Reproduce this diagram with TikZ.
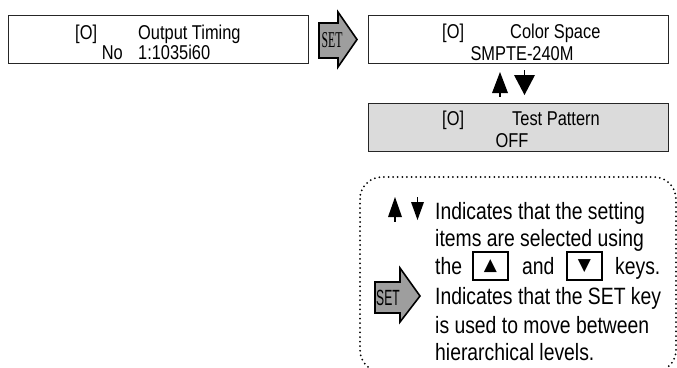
\documentclass[tikz,border=0pt]{standalone}
\usepackage{fontspec}
\setmainfont{Liberation Sans}
\newfontfamily\narrowfont{Liberation Sans}[FakeStretch=0.82]
\newfontfamily\keyfont{Liberation Sans}[FakeStretch=0.55]
\newfontfamily\setfont{Liberation Serif}[FakeStretch=0.52]
\newfontfamily\symfont{DejaVu Sans}

\begin{document}
\begin{tikzpicture}[x=1pt,y=-1pt,
  lcd/.style={draw=black!85,line width=1pt,minimum width=300pt,minimum height=48pt,inner sep=0pt},
  txt/.style={anchor=base west,inner sep=0pt,font=\narrowfont\fontsize{20}{22}\selectfont},
  note/.style={anchor=base west,inner sep=0pt,font=\narrowfont\fontsize{23.6}{25}\selectfont},
  setarrow/.style={fill=black!38,draw=black,line width=1.6pt,line join=miter},
  updown/.style={fill=black},
  keybox/.style={draw,line width=1.5pt,minimum width=35pt,minimum height=28pt,inner sep=0pt,
    font=\symfont\fontsize{17}{17}\selectfont},
  dotbox/.style={line width=2pt,line cap=round,dash pattern=on 0pt off 4.6pt,rounded corners=22pt}]

\useasboundingbox (0,0) rectangle (677,367);
\clip (0,0) rectangle (677,367);

% menu screens
\node[lcd] (timing) at (158,39) {};
\node[lcd] (space) at (518,39.5) {};
\node[lcd,fill=black!14] (pattern) at (518,127.5) {};

\node[txt] (timingA) at (75,39) {[O]};
\node[txt] (timingB) at (138,39) {Output Timing};
\node[txt,anchor=base east] (timingC) at (123,59.5) {No};
\node[txt] (timingD) at (138,59.5) {1:1035i60};

\node[txt] (spaceA) at (442,38) {[O]};
\node[txt] (spaceB) at (510,38) {Color Space};
\node[txt,anchor=base] (spaceC) at (522,60) {SMPTE-240M};

\node[txt] (patternA) at (442,125) {[O]};
\node[txt] (patternB) at (512,125) {Test Pattern};
\node[txt,anchor=base] (patternC) at (512,147) {OFF};

% SET key between the screens
\draw[setarrow] (319,23) -- (338,23) -- (338,12) -- (357,39.5) -- (338,67) -- (338,58) -- (319,58) -- cycle;
\node[inner sep=0pt,font=\setfont\fontsize{22.6}{23}\selectfont] (setA) at (332,40) {SET};

% up / down keys
\fill[updown] (492,93) -- (500,72) -- (508,93) -- cycle;
\draw[line width=1.2pt] (500,93) -- (500,97);
\fill[updown] (514,75) -- (535,75) -- (524.5,95) -- cycle;
\draw[line width=1.2pt] (524.5,70) -- (524.5,75);

% legend
\draw[dotbox] (360,177) rectangle (676,372);

\fill[updown] (388,217) -- (395,197) -- (402,217) -- cycle;
\draw[line width=1.2pt] (395,217) -- (395,222);
\fill[updown] (411,202) -- (424,202) -- (417.5,220) -- cycle;
\draw[line width=1.2pt] (417.5,197) -- (417.5,202);

\node[note] (noteA) at (435,219) {Indicates that the setting};
\node[note] (noteB) at (435,246) {items are selected using};
\node[note] (noteC) at (435,274) {the};
\node[keybox] (upkey) at (490.5,266) {▲};
\node[note] (noteD) at (522,274) {and};
\node[keybox] (downkey) at (584.5,266) {▼};
\node[note] (noteE) at (615,274) {keys.};

\draw[setarrow] (375,282) -- (400,282) -- (400,268) -- (420,296) -- (400,322) -- (400,313) -- (375,313) -- cycle;
\node[inner sep=0pt,font=\keyfont\fontsize{22}{22}\selectfont] (setB) at (388,298) {SET};

\node[note] (noteF) at (435,304) {Indicates that the SET key};
\node[note] (noteG) at (435,333) {is used to move between};
\node[note] (noteH) at (435,360) {hierarchical levels.};
\end{tikzpicture}
\end{document}
